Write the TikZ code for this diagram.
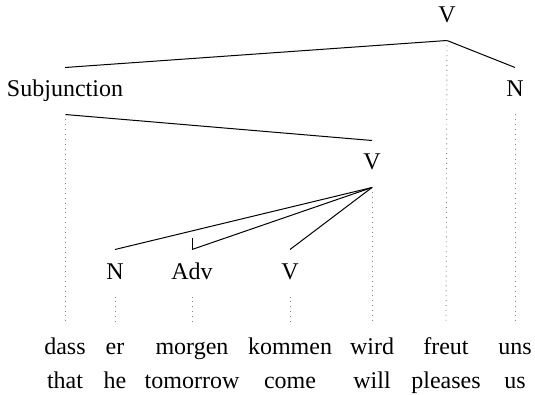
\documentclass[tikz,border=0pt]{standalone}
\usepackage{fontspec}
\setmainfont{Liberation Serif}
\usepackage{tikz}
\usetikzlibrary{positioning}

\begin{document}
\begin{tikzpicture}[x=0.5pt, y=-0.5pt, line width=0.5pt,
  cat/.style={anchor=base, inner xsep=1pt, inner ysep=6.5pt, text height=8pt, text depth=2pt, font=\fontsize{12}{14}\selectfont},
  word/.style={anchor=base, inner xsep=1pt, inner ysep=8pt, text height=8pt, text depth=2.5pt, font=\fontsize{12}{14}\selectfont},
  proj/.style={dotted, gray, line width=0.45pt}]
\useasboundingbox (0,0) rectangle (535,395);
% categories
\node[cat] (vtop) at (447,23) {V};
\node[cat] (subj) at (65,97) {Subjunction};
\node[cat] (nobj) at (515,97) {N};
\node[cat] (vaux) at (372,170) {V};
\node[cat] (nsubj) at (115,279) {N};
\node[cat] (adv) at (192,279) {Adv};
\node[cat] (vinf) at (290,279) {V};
% words and glosses
\foreach \x/\w/\g [count=\i] in {65/dass/that, 115/er/he, 192/morgen/tomorrow, 290/kommen/come, 372/wird/will, 446/freut/pleases, 515/uns/us} {
  \node[word] (w\i) at (\x,354) {\w};
  \node[word] (g\i) at (\x,388) {\g};
}
% dependencies
\draw (subj.north) -- (vtop.south) -- (nobj.north);
\draw (subj.south) -- (vaux.north);
\foreach \d in {nsubj,adv,vinf} \draw (vaux.south) -- (\d.north);
\draw (adv.north) -- ++(0,-11);
% projection lines
\foreach \c/\i in {subj/1, nsubj/2, adv/3, vinf/4, vaux/5, vtop/6, nobj/7} \draw[proj] (\c.south) -- (w\i.north);
\end{tikzpicture}
\end{document}
